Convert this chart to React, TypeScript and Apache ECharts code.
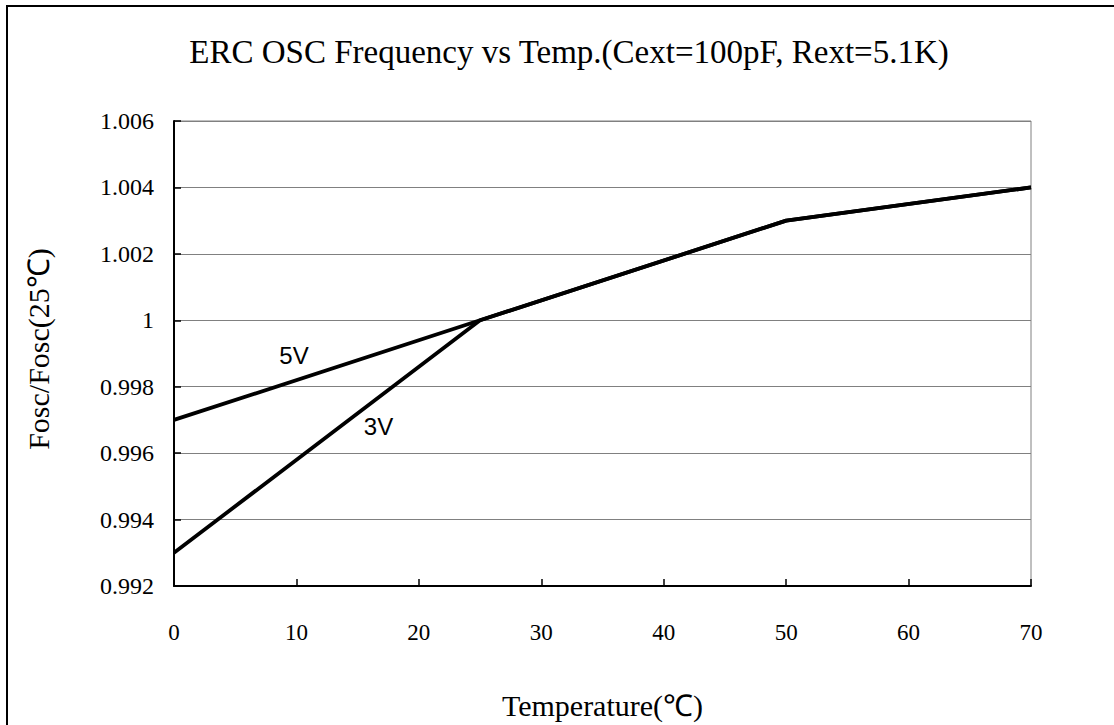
import React, { useEffect, useRef } from "react";
import * as echarts from "echarts";

const titleText = "ERC OSC Frequency vs Temp.(Cext=100pF, Rext=5.1K)";
const xName = "Temperature(℃)";
const yName = "Fosc/Fosc(25℃)";
const temps = [0, 25, 50, 70];
const v5 = [0.997, 1.0, 1.003, 1.004];
const v3 = [0.993, 1.0, 1.003, 1.004];
const label5 = { text: "5V", coord: [9.8, 0.99893] };
const label3 = { text: "3V", coord: [16.7, 0.9968] };

const SERIF = "'Liberation Serif', 'Times New Roman', serif";
const SANS = "'Liberation Sans', Arial, sans-serif";

export default function App() {
  const ref = useRef<HTMLDivElement>(null);
  useEffect(() => {
    if (!ref.current) return;
    const chart = echarts.init(ref.current, null, { renderer: "svg" });
    const mk = (lab: { text: string; coord: number[] }) => ({
      silent: true,
      symbol: "circle",
      symbolSize: 0,
      data: [
        {
          coord: lab.coord,
          label: {
            show: true,
            formatter: lab.text,
            position: "inside",
            color: "#000",
            fontFamily: SANS,
            fontSize: 24,
          },
        },
      ],
    });
    chart.setOption({
      animation: false,
      backgroundColor: "#fff",
      title: {
        text: titleText,
        left: 564,
        top: 30,
        textAlign: "center",
        textStyle: { fontFamily: SERIF, fontSize: 33, fontWeight: "normal", color: "#000" },
      },
      grid: {
        left: 174,
        right: 83,
        top: 121,
        bottom: 139,
        show: true,
        borderColor: "#808080",
        borderWidth: 1,
        containLabel: false,
      },
      xAxis: {
        type: "value",
        min: 0,
        max: 70,
        interval: 10,
        name: xName,
        nameLocation: "middle",
        nameGap: 104,
        nameTextStyle: { fontFamily: SERIF, fontSize: 30, color: "#000" },
        axisLine: { show: true, lineStyle: { color: "#000", width: 2 } },
        axisTick: { show: true, inside: true, length: 7, lineStyle: { color: "#000", width: 1.5 } },
        axisLabel: { margin: 35, fontFamily: SERIF, fontSize: 23, color: "#000" },
        splitLine: { show: false },
      },
      yAxis: {
        type: "value",
        min: 0.992,
        max: 1.006,
        interval: 0.002,
        axisLine: { show: true, lineStyle: { color: "#000", width: 2 } },
        axisTick: { show: true, inside: true, length: 7, lineStyle: { color: "#000", width: 1.5 } },
        axisLabel: {
          margin: 20,
          fontFamily: SERIF,
          fontSize: 24,
          color: "#000",
          formatter: (v: number) => String(parseFloat(v.toFixed(3))),
        },
        splitLine: { show: true, lineStyle: { color: "#808080", width: 1 } },
      },
      graphic: [
        {
          type: "rect",
          shape: { x: 7, y: 6, width: 1300, height: 900 },
          style: { fill: "none", stroke: "#000", lineWidth: 2 },
          silent: true,
          z: 100,
        },
        {
          type: "text",
          x: 38,
          y: 349,
          rotation: Math.PI / 2,
          style: {
            text: yName,
            fontFamily: SERIF,
            fontSize: 30,
            fill: "#000",
            align: "center",
            verticalAlign: "middle",
          },
        },
      ],
      series: [
        {
          name: "5V",
          type: "line",
          data: temps.map((t, i) => [t, v5[i]]),
          showSymbol: false,
          symbol: "none",
          lineStyle: { color: "#000", width: 3.8 },
          markPoint: mk(label5),
          z: 5,
        },
        {
          name: "3V",
          type: "line",
          data: temps.map((t, i) => [t, v3[i]]),
          showSymbol: false,
          symbol: "none",
          lineStyle: { color: "#000", width: 3.8 },
          markPoint: mk(label3),
          z: 5,
        },
      ],
    });
    return () => chart.dispose();
  }, []);
  return (
    <div
      ref={ref}
      style={{ position: "fixed", left: 0, top: 0, width: 1114, height: 725, background: "#fff" }}
    />
  );
}
